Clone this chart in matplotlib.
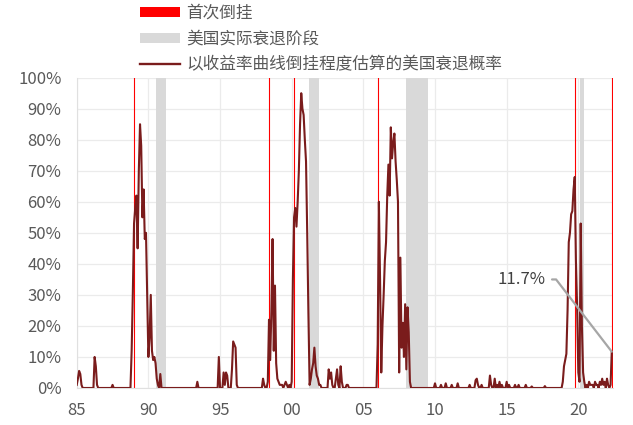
import numpy as np
import matplotlib
matplotlib.use("Agg")
import matplotlib.pyplot as plt
from matplotlib.patches import Patch
from matplotlib.lines import Line2D

plt.rcParams['font.family'] = ['Noto Sans CJK SC', 'DejaVu Sans']

# monthly recession probability (%), one list per year, starting Jan 1985
prob_by_year = {
    1985: [1, 3, 5.5, 4.5, 1, 0, 0, 0, 0, 0, 0, 0],
    1986: [0, 0, 0, 10, 7, 1, 0, 0, 0, 0, 0, 0],
    1987: [0, 0, 0, 0, 0, 0, 1, 0, 0, 0, 0, 0],
    1988: [0, 0, 0, 0, 0, 0, 0, 0, 0, 0, 12, 31],
    1989: [53, 58, 62, 45, 70, 85, 78, 55, 64, 48, 50, 30],
    1990: [10, 16, 30, 12, 9, 10, 8, 3, 1, 0, 4.5, 0],
    1991: [0, 0, 0, 0, 0, 0, 0, 0, 0, 0, 0, 0],
    1992: [0, 0, 0, 0, 0, 0, 0, 0, 0, 0, 0, 0],
    1993: [0, 0, 0, 0, 0, 2, 0, 0, 0, 0, 0, 0],
    1994: [0, 0, 0, 0, 0, 0, 0, 0, 0, 0, 0, 10],
    1995: [0, 0, 0, 5, 1, 5, 4, 0, 0, 0, 6, 15],
    1996: [14, 13, 1, 0, 0, 0, 0, 0, 0, 0, 0, 0],
    1997: [0, 0, 0, 0, 0, 0, 0, 0, 0, 0, 0, 0],
    1998: [3, 1, 0, 0, 2, 22, 9, 25, 48, 12, 33, 8],
    1999: [3, 2, 1, 1, 1, 0, 1, 2, 1, 0, 1, 0],
    2000: [2, 35, 55, 58, 52, 60, 70, 85, 95, 90, 88, 80],
    2001: [73, 50, 24, 1, 3, 6, 8, 13, 7, 4, 3, 1],
    2002: [1, 0, 0, 0, 0, 0, 0, 6, 3, 5, 1, 0],
    2003: [0, 3, 6, 1, 0, 7, 2, 0, 0, 0, 1, 1],
    2004: [0, 0, 0, 0, 0, 0, 0, 0, 0, 0, 0, 0],
    2005: [0, 0, 0, 0, 0, 0, 0, 0, 0, 0, 0, 0],
    2006: [14, 60, 35, 5, 20, 30, 41, 47, 62, 72, 62, 84],
    2007: [74, 79, 82, 73, 67, 60, 5, 42, 13, 21, 10, 27],
    2008: [6, 26, 18, 2, 0, 0, 0, 0, 0, 0, 0, 0],
    2009: [0, 0, 0, 0, 0, 0, 0, 0, 0, 0, 0, 0],
    2010: [1.5, 0, 0, 0, 0, 1, 0, 0, 0, 1.5, 0, 0],
    2011: [0, 0, 1, 0, 0, 0, 0, 1.5, 0, 0, 0, 0],
    2012: [0, 0, 0, 0, 0, 1, 0, 0, 0, 0, 2.5, 3],
    2013: [1, 0, 0, 1, 0, 0, 0, 0, 0, 0, 4, 1],
    2014: [0, 0, 3, 0, 1, 0, 2, 0, 1, 0, 0, 0],
    2015: [2, 0, 1, 0, 0, 0, 0, 1, 0, 0, 1, 0],
    2016: [0, 0, 0, 0, 1, 0, 0, 0, 0, 0.5, 0, 0],
    2017: [0, 0, 0, 0, 0, 0, 0, 0, 0.6, 0, 0, 0],
    2018: [0, 0, 0, 0, 0, 0, 0, 0, 0, 0, 0, 2],
    2019: [7, 9, 11, 25, 47, 50, 56, 57, 64, 68, 41, 26],
    2020: [5, 2, 53, 20, 5, 2, 0, 1, 0, 2, 1, 1],
    2021: [1, 0, 2, 1, 1, 0, 2, 1, 3, 1, 2, 0],
    2022: [3, 1, 0, 1, 11.7],
}

# first inversion dates (decimal years)
inversion_dates = [1988.98, 1998.43, 2000.15, 2006.04, 2019.80, 2022.38]
# actual US recessions (start, end)
recessions = [(1990.52, 1991.20), (2001.20, 2001.88), (2007.97, 2009.50), (2020.12, 2020.42)]

x_ticks = [1985, 1990, 1995, 2000, 2005, 2010, 2015, 2020]
x_labels = ['85', '90', '95', '00', '05', '10', '15', '20']
y_ticks = list(range(0, 101, 10))
y_labels = [f'{v}%' for v in y_ticks]

labels = ['首次倒挂', '美国实际衰退阶段', '以收益率曲线倒挂程度估算的美国衰退概率']

prob = np.concatenate([prob_by_year[y] for y in sorted(prob_by_year)])
t = 1985 + np.arange(len(prob)) / 12

grey_txt = '#595959'
line_col = '#7A1C1C'

fig = plt.figure(figsize=(6.33, 4.25), dpi=100)
ax = fig.add_axes([0.1212, 0.0871, 0.8472, 0.7301])

for a, b in recessions:
    ax.axvspan(a, b, color='#D9D9D9', lw=0, zorder=1)
for d in inversion_dates:
    ax.axvline(d, color='#FF0000', lw=0.8, zorder=2)

ax.plot(t, prob, color=line_col, lw=1.5, zorder=3)

ax.set_xlim(1985, 2022.42)
ax.set_ylim(0, 100)
ax.set_xticks(x_ticks)
ax.set_xticklabels(x_labels)
ax.set_yticks(y_ticks)
ax.set_yticklabels(y_labels)
ax.tick_params(length=0, labelsize=12, colors=grey_txt)
ax.tick_params(axis='y', pad=11)
ax.tick_params(axis='x', pad=10)
ax.grid(True, color='#EBEBEB', lw=0.9, zorder=0)
ax.set_axisbelow(True)
for s in ['top', 'right']:
    ax.spines[s].set_visible(False)
for s in ['left', 'bottom']:
    ax.spines[s].set_color('#E0E0E0')

ax.annotate('11.7%', xy=(t[-1], prob[-1]), xytext=(-48, 52),
            textcoords='offset points', ha='right', va='center',
            fontsize=12, color='#404040',
            arrowprops=dict(arrowstyle='-', color='#A6A6A6', lw=1.6,
                            patchA=None, relpos=(1, 0.5), shrinkA=5, shrinkB=0,
                            connectionstyle='arc,angleA=0,armA=11,angleB=0,armB=0,rad=0'))

handles = [Patch(facecolor='#FF0000', edgecolor='none'),
           Patch(facecolor='#D9D9D9', edgecolor='none'),
           Line2D([], [], color=line_col, lw=1.7)]
fig.legend(handles, labels, loc='upper left', bbox_to_anchor=(140 / 633, 1 - 5 / 425),
           frameon=False, fontsize=12, labelcolor=grey_txt, handlelength=2.4,
           handleheight=0.5, handletextpad=0.35, labelspacing=0.52,
           borderpad=0.0, borderaxespad=0.0)

fig.savefig('out.png', dpi=100)
